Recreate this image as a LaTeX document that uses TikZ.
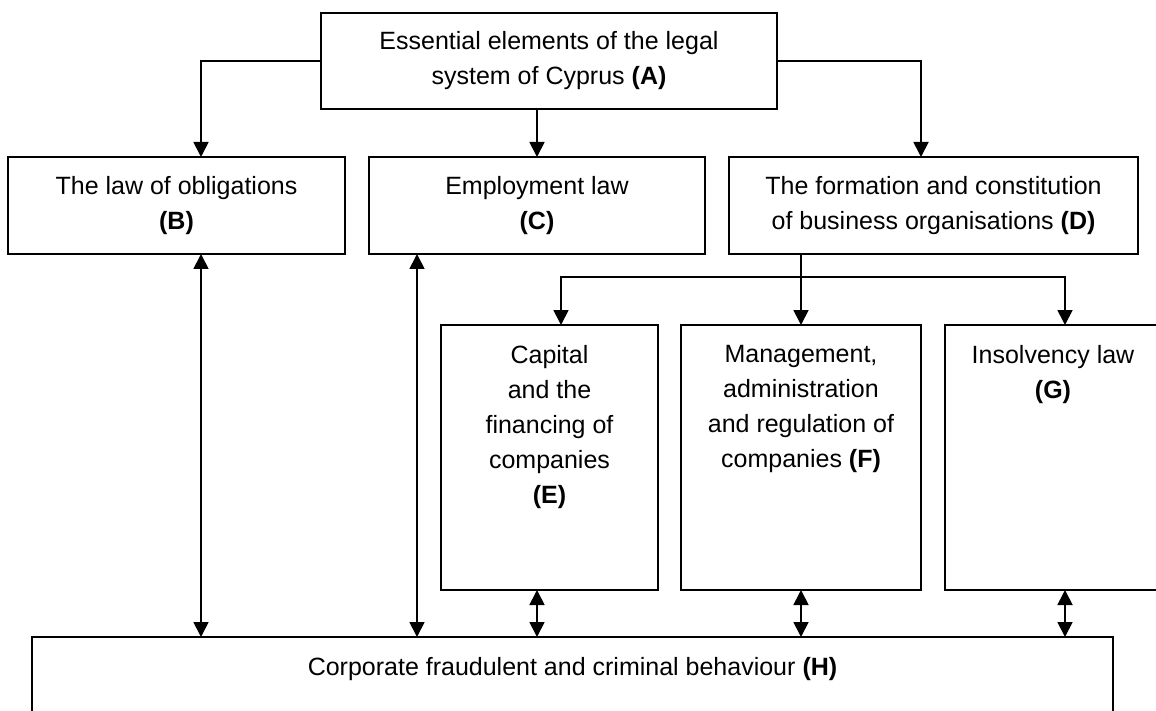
\documentclass[tikz,border=0pt]{standalone}
\usepackage{fontspec}
\setmainfont{Liberation Sans}
\usepackage{tikz}
\usetikzlibrary{positioning,calc,arrows.meta}

\tikzstyle{box} = [draw, rectangle, line width=1.8pt, inner sep=0pt, outer sep=0pt, align=center]
\tikzstyle{boxtext} = [inner sep=0pt, outer sep=0pt, align=center, anchor=north]
\tikzstyle{arrowline} = [line width=1.8pt, -{Triangle[length=15pt,width=15pt]}]
\tikzstyle{dblline} = [line width=1.8pt, {Triangle[length=15pt,width=15pt]}-{Triangle[length=15pt,width=15pt]}]

\begin{document}
\begin{tikzpicture}[x=1pt, y=-1pt, font=\fontsize{25}{35}\selectfont]
	\useasboundingbox (0,0) rectangle (1156,711);
	\clip (0,0) rectangle (1156,711);

	% Kaesten oben
	\node[box, minimum width=456pt, minimum height=96pt] (A) at (549,61) {Essential elements of the legal\\system of Cyprus \textbf{(A)}};
	\node[box, minimum width=337pt, minimum height=97pt] (B) at (176.5,205.5) {The law of obligations\\\textbf{(B)}};
	\node[box, minimum width=336pt, minimum height=97pt] (C) at (537,205.5) {Employment law\\\textbf{(C)}};
	\node[box, minimum width=409pt, minimum height=97pt] (D) at (933.5,205.5) {The formation and constitution\\of business organisations \textbf{(D)}};

	% Kaesten unten
	\node[box, anchor=north west, minimum width=217pt, minimum height=265pt] (E) at (441,325) {};
	\node[box, anchor=north west, minimum width=240pt, minimum height=265pt] (F) at (681,325) {};
	\node[box, anchor=north west, minimum width=216pt, minimum height=265pt] (G) at (945,325) {};
	\node[box, anchor=north west, minimum width=1081pt, minimum height=140pt] (H) at (32,637) {};

	\node[boxtext] (Etext) at ([yshift=-20pt]E.north) {Capital\\and the\\financing of\\companies\\\textbf{(E)}};
	\node[boxtext] (Ftext) at ([yshift=-20pt]F.north) {Management,\\administration\\and regulation of\\companies \textbf{(F)}};
	\node[boxtext] (Gtext) at ([yshift=-20pt]G.north) {Insolvency law\\\textbf{(G)}};
	\node[boxtext] (Htext) at ([yshift=-20pt]H.north) {Corporate fraudulent and criminal behaviour \textbf{(H)}};

	% Pfeile von A
	\draw[arrowline] (A.west) -| ([xshift=24.5pt]B.north);
	\draw[arrowline] (A.south -| C.north) -- (C.north);
	\draw[arrowline] (A.east) -| ([xshift=-12.5pt]D.north);

	% Verteiler unter D
	\coordinate (bus) at (801,277);
	\draw[line width=1.8pt] (D.south -| bus) -- (bus);
	\draw[arrowline] (bus) -| ([xshift=11.5pt]E.north);
	\draw[arrowline] (bus) -- (F.north);
	\draw[arrowline] (bus) -| ([xshift=12pt]G.north);

	% Doppelpfeile zu H
	\draw[dblline] ([xshift=24.5pt]B.south) -- ([xshift=24.5pt]B.south |- H.north);
	\draw[dblline] ([xshift=-120pt]C.south) -- ([xshift=-120pt]C.south |- H.north);
	\draw[dblline] ([xshift=-12.5pt]E.south) -- ([xshift=-12.5pt]E.south |- H.north);
	\draw[dblline] (F.south) -- (F.south |- H.north);
	\draw[dblline] ([xshift=12pt]G.south) -- ([xshift=12pt]G.south |- H.north);
\end{tikzpicture}
\end{document}
